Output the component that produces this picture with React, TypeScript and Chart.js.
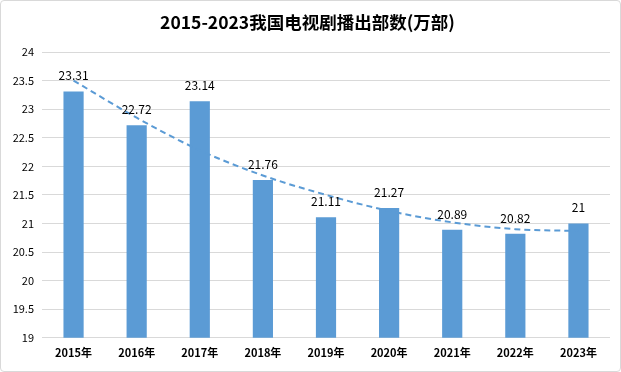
import React, { useEffect, useRef } from "react";
import { Chart, registerables } from "chart.js";

Chart.register(...registerables);

const categories = ["2015年", "2016年", "2017年", "2018年", "2019年", "2020年", "2021年", "2022年", "2023年"];
const values = [23.31, 22.72, 23.14, 21.76, 21.11, 21.27, 20.89, 20.82, 21];
const valueLabels = ["23.31", "22.72", "23.14", "21.76", "21.11", "21.27", "20.89", "20.82", "21"];
const trendValues = [23.5, 22.85, 22.28, 21.84, 21.5, 21.22, 21.02, 20.9, 20.87];
const titleText = "2015-2023我国电视剧播出部数(万部)";

const FONT = "'Noto Sans CJK SC', 'Noto Sans', sans-serif";

const labelPlugin = {
  id: "valueLabels",
  afterDatasetsDraw(chart: any) {
    const ctx = chart.ctx;
    const meta = chart.getDatasetMeta(0);
    ctx.save();
    ctx.font = `12px ${FONT}`;
    ctx.fillStyle = "#000";
    ctx.textAlign = "center";
    ctx.textBaseline = "alphabetic";
    meta.data.forEach((bar: any, i: number) => {
      ctx.fillText(valueLabels[i], bar.x, bar.y - 11);
    });
    ctx.restore();
  },
};

export default function App() {
  const ref = useRef<HTMLCanvasElement>(null);
  useEffect(() => {
    document.body.style.margin = "0";
    const chart = new Chart(ref.current!, {
      type: "bar",
      data: {
        labels: categories,
        datasets: [
          {
            type: "bar",
            data: values,
            backgroundColor: "#5B9BD5",
            barPercentage: 0.32,
            categoryPercentage: 1,
            order: 2,
          },
          {
            type: "line",
            data: trendValues,
            borderColor: "#5B9BD5",
            borderWidth: 2,
            borderDash: [6, 4],
            pointRadius: 0,
            cubicInterpolationMode: "monotone",
            fill: false,
            order: 1,
          } as any,
        ],
      },
      options: {
        animation: false,
        responsive: false,
        maintainAspectRatio: false,
        layout: { padding: { left: 4, right: 10, top: 0, bottom: 4 } },
        plugins: {
          legend: { display: false },
          tooltip: { enabled: false },
          title: {
            display: true,
            text: titleText,
            color: "#000",
            font: { family: FONT, size: 17.5, weight: "bold" },
            padding: { top: 11, bottom: 19 },
          },
        },
        scales: {
          x: {
            grid: { display: false, drawTicks: false },
            border: { display: false },
            ticks: { color: "#000", font: { family: FONT, size: 11, weight: "bold" }, padding: 8 },
          },
          y: {
            min: 19,
            max: 24,
            ticks: {
              stepSize: 0.5,
              color: "#000",
              font: { family: FONT, size: 11 },
              padding: 8,
              callback: (v: any) => String(Number(v)),
            },
            grid: { color: "#d9d9d9", drawTicks: false },
            border: { display: false },
            afterFit(scale: any) {
              scale.width = 37;
            },
          },
        },
      },
      plugins: [labelPlugin],
    });
    return () => chart.destroy();
  }, []);
  return (
    <div
      style={{
        position: "fixed",
        left: 0,
        top: 0,
        width: 621,
        height: 372,
        boxSizing: "border-box",
        border: "1px solid #d9d9d9",
        borderRadius: 4,
        background: "#fff",
        overflow: "hidden",
      }}
    >
      <canvas ref={ref} width={619} height={370} style={{ display: "block" }} />
    </div>
  );
}
